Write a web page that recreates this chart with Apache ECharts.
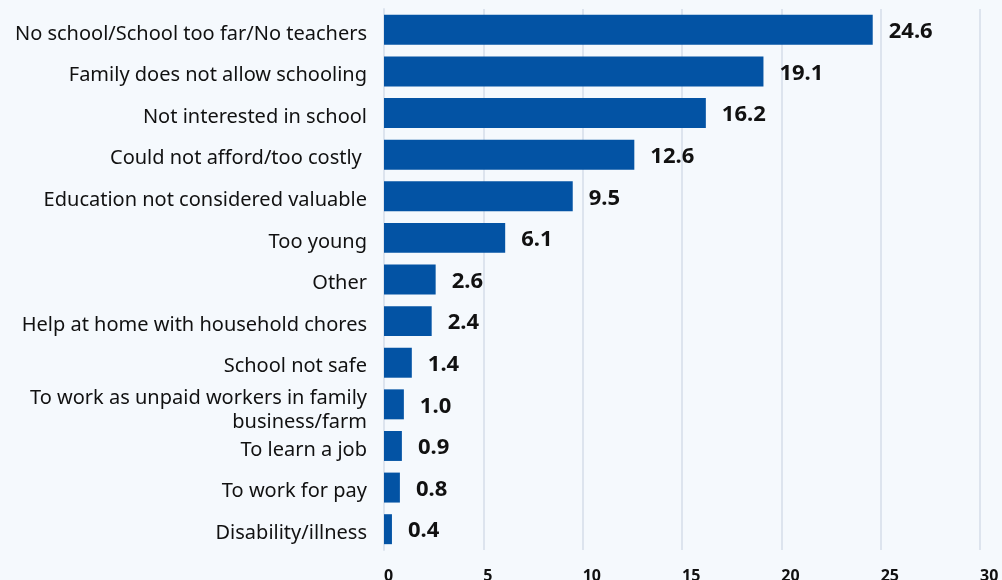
<!DOCTYPE html>
<html>
<head>
<meta charset="utf-8">
<script src="https://cdn.jsdelivr.net/npm/echarts@6/dist/echarts.min.js"></script>
<style>
  html, body { margin: 0; padding: 0; background: #f5f9fd; }
  #chart { width: 1002px; height: 580px; }
</style>
</head>
<body>
<div id="chart"></div>
<script>
// reasons for not attending school, percent
var categories = [
  'No school/School too far/No teachers',
  'Family does not allow schooling',
  'Not interested in school',
  'Could not afford/too costly ',
  'Education not considered valuable',
  'Too young',
  'Other',
  'Help at home with household chores',
  'School not safe',
  'To work as unpaid workers in family\nbusiness/farm',
  'To learn a job',
  'To work for pay',
  'Disability/illness'
];
var values = [24.6, 19.1, 16.2, 12.6, 9.5, 6.1, 2.6, 2.4, 1.4, 1.0, 0.9, 0.8, 0.4];
var xTicks = [0, 5, 10, 15, 20, 25, 30];

var myChart = echarts.init(document.getElementById('chart'));

var option = {
  backgroundColor: '#f5f9fd',
  textStyle: { fontFamily: 'Noto Sans' },
  grid: { left: 384, right: 22, top: 9, bottom: 30, containLabel: false, outerBoundsMode: 'none' },
  xAxis: {
    type: 'value',
    min: xTicks[0],
    max: xTicks[xTicks.length - 1],
    interval: 5,
    axisLine: { show: false },
    axisTick: { show: false },
    splitLine: { show: true, lineStyle: { color: '#dde4ee', width: 2 } },
    axisLabel: {
      margin: 18,
      align: 'left',
      color: '#111',
      fontWeight: 'bold',
      fontSize: 16,
      fontFamily: 'Noto Sans'
    }
  },
  yAxis: {
    type: 'category',
    data: categories,
    inverse: true,
    axisLine: { show: true, lineStyle: { color: '#dde4ee', width: 2 } },
    axisTick: { show: false },
    axisLabel: {
      margin: 17,
      color: '#111',
      fontSize: 20,
      fontFamily: 'Noto Sans',
      // push text a little below the band centre, like the original
      formatter: function (v) {
        var lines = v.split('\n');
        if (lines.length > 1) {
          return '{m|' + lines[0] + '}\n{m|' + lines[1] + '}';
        }
        return '{s|' + v + '}';
      },
      rich: {
        s: { fontSize: 20, lineHeight: 24, padding: [8, 0, 0, 0], color: '#111' },
        m: { fontSize: 20, lineHeight: 24, padding: [12, 0, 0, 0], color: '#111' }
      }
    }
  },
  series: [{
    type: 'bar',
    data: values,
    barCategoryGap: '28%',
    itemStyle: { color: '#0353a4' },
    label: {
      show: true,
      position: 'right',
      distance: 16,
      offset: [0, 2],
      color: '#111',
      fontWeight: 'bold',
      fontSize: 22,
      fontFamily: 'Noto Sans',
      formatter: function (p) { return p.value.toFixed(1); }
    }
  }]
};

myChart.setOption(option);
</script>
</body>
</html>
